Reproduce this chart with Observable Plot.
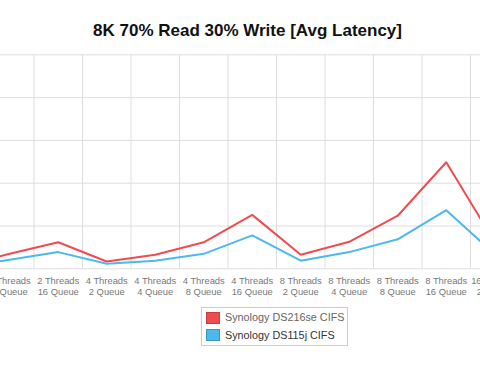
<!DOCTYPE html>
<html><head><meta charset="utf-8">
<script src="https://cdn.jsdelivr.net/npm/d3@7"></script>
<script src="https://cdn.jsdelivr.net/npm/@observablehq/plot@0.6"></script>
<style>
html,body{margin:0;padding:0;background:#fff;}
#wrap{position:relative;width:480px;height:378px;overflow:hidden;font-family:"Liberation Sans",Arial,Helvetica,sans-serif;}
#title{position:absolute;left:0;width:495px;top:21.6px;line-height:17px;text-align:center;font-weight:bold;font-size:17px;color:#111;white-space:nowrap;}
#chart{position:absolute;left:-55.2px;top:0;width:600px;height:310px;}
#chart svg{max-width:none !important;width:600px;height:310px;}
.legbox{position:absolute;left:201px;top:307px;width:147px;height:39px;border:1px solid #ccc;box-sizing:border-box;}
.sw{position:absolute;width:14px;height:12px;box-sizing:border-box;border:1px solid rgba(0,0,0,0.18);}
.lt{position:absolute;left:225px;font-size:10.8px;line-height:12px;white-space:nowrap;}
</style>
</head><body>
<div id="wrap">
  <div id="title"></div>
  <div id="chart"></div>
</div>
<script>
const title = "8K 70% Read 30% Write [Avg Latency]";
const categories = ["2 Threads 4 Queue","2 Threads 8 Queue","2 Threads 16 Queue","4 Threads 2 Queue","4 Threads 4 Queue","4 Threads 8 Queue","4 Threads 16 Queue","8 Threads 2 Queue","8 Threads 4 Queue","8 Threads 8 Queue","8 Threads 16 Queue","16 Threads 2 Queue"];
const ds216se = [0.7,3.5,6.2,1.7,3.3,6.2,12.6,3.3,6.3,12.4,24.9,6.2];
const ds115j  = [0.3,2.1,3.9,1.2,1.9,3.5,7.8,1.9,3.9,6.9,13.7,3.4];
const yTicks = [0,10,20,30,40,50];
const seriesNames = ["Synology DS216se CIFS","Synology DS115j CIFS"];
const seriesColors = ["#f04b4f","#4bb8ee"];
const legendTextColors = ["#666","#333"];

document.getElementById("title").textContent = title;

const seriesValues = [ds216se, ds115j];
const rows = [];
seriesNames.forEach((s, k) => seriesValues[k].forEach((v, i) => rows.push({i, cat: categories[i], series: s, value: v})));
const idx = d3.range(categories.length);
const boundaries = idx.map(i => i + 0.5);

const plot = Plot.plot({
  width: 600,
  height: 310,
  marginLeft: 40,
  marginRight: 26.5,
  marginTop: 54.3,
  marginBottom: 41.7,
  style: {fontFamily: '"Liberation Sans",Arial,sans-serif', background: "transparent", maxWidth: "none"},
  x: {type: "linear", domain: [0.5, categories.length - 0.5]},
  y: {domain: [0, 50], axis: null},
  color: {domain: seriesNames, range: seriesColors},
  marks: [
    Plot.ruleY(yTicks, {stroke: "#dedede", strokeWidth: 1}),
    Plot.ruleX(boundaries, {stroke: "#dedede", strokeWidth: 1}),
    Plot.line(rows, {x: "i", y: "value", z: "series", stroke: "series", strokeWidth: 2, strokeLinejoin: "round", strokeLinecap: "round"}),
    Plot.axisX(idx, {tickSize: 0, tickPadding: 8, fontSize: 9.4, lineHeight: 1.14, color: "#777", label: null,
      tickFormat: i => categories[i].replace(" Threads ", " Threads\n")})
  ]
});
document.getElementById("chart").appendChild(plot);

const wrap = document.getElementById("wrap");
const box = document.createElement("div"); box.className = "legbox"; wrap.appendChild(box);
const swTops = [312, 329.3];
const txTops = [311, 328.6];
seriesNames.forEach((s, k) => {
  const sw = document.createElement("div"); sw.className = "sw";
  sw.style.left = "206px"; sw.style.top = swTops[k] + "px"; sw.style.background = seriesColors[k];
  wrap.appendChild(sw);
  const t = document.createElement("div"); t.className = "lt";
  t.style.top = txTops[k] + "px"; t.style.color = legendTextColors[k]; t.textContent = s;
  wrap.appendChild(t);
});
</script>
</body></html>
